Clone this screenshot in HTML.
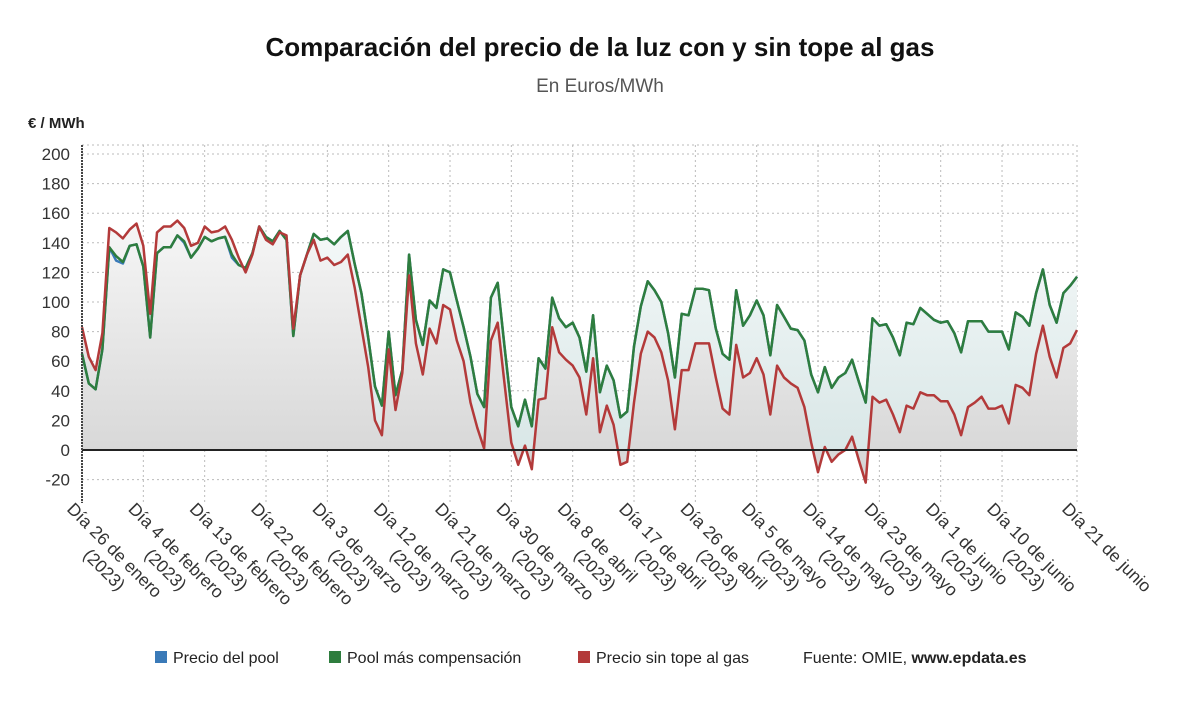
<!DOCTYPE html>
<html><head><meta charset="utf-8">
<style>
body{margin:0;background:#fff;font-family:"Liberation Sans",sans-serif;}
svg text{font-family:"Liberation Sans",sans-serif;}
</style></head>
<body>
<svg width="1200" height="705" viewBox="0 0 1200 705">
<defs>
<linearGradient id="gG" x1="0" y1="0" x2="0" y2="1"><stop offset="0" stop-color="#f4f8f8"/><stop offset="1" stop-color="#d9e7e7"/></linearGradient>
<linearGradient id="gR" x1="0" y1="0" x2="0" y2="1"><stop offset="0" stop-color="#f6f6f6"/><stop offset="1" stop-color="#d4d4d4"/></linearGradient>
</defs>
<text x="600" y="56" text-anchor="middle" font-size="26" font-weight="bold" fill="#111">Comparación del precio de la luz con y sin tope al gas</text>
<text x="600" y="92" text-anchor="middle" font-size="19" fill="#555">En Euros/MWh</text>
<text x="28" y="128" font-size="15" font-weight="bold" fill="#222">€ / MWh</text>
<g id="grid"></g>
<g id="areas"></g>
<g id="lines"></g>
<g id="axes"></g>
<g font-size="16" fill="#222">
<rect x="155" y="651" width="12" height="12" fill="#3a7ab8"/>
<text x="173" y="663">Precio del pool</text>
<rect x="329" y="651" width="12" height="12" fill="#2e7d3e"/>
<text x="347" y="663">Pool más compensación</text>
<rect x="578" y="651" width="12" height="12" fill="#b33a3a"/>
<text x="596" y="663">Precio sin tope al gas</text>
<text x="803" y="663">Fuente: OMIE, <tspan font-weight="bold">www.epdata.es</tspan></text>
</g>
</svg>
<script>
const green=[65,45,41,68,137,131,127,138,139,124,76,133,137,137,145,141,130,136,144,141,143,144,132,125,123,133,151,144,141,148,142,77,118,132,146,142,143,139,144,
148,126,106,76,43,30,80,37,54,132,88,71,101,96,122,120,101,83,63,38,29,103,113,70,29,16,34,16,62,55,103,89,83,86,76,
53,91,39,57,47,22,26,70,97,114,108,100,79,49,92,91,109,109,108,82,65,61,108,84,91,101,91,64,98,90,82,81,74,51,39,
56,42,49,52,61,46,32,89,84,85,76,64,86,85,96,92,88,86,87,79,66,87,87,87,80,80,80,68,93,90,84,106,122,98,86,106,111,117];
const red=[83,63,54,79,150,147,143,149,153,138,92,147,151,151,155,150,138,140,151,147,148,151,142,130,120,132,151,142,139,147,145,82,118,132,142,128,130,125,127,
132,110,83,56,20,10,68,27,52,118,72,51,82,72,98,95,74,60,32,15,1,74,86,45,5,-10,3,-13,34,35,83,66,61,57,49,
24,62,12,30,17,-10,-8,32,65,80,76,66,47,14,54,54,72,72,72,49,28,24,71,49,52,62,51,24,57,49,45,42,29,5,-15,
2,-8,-3,0,9,-7,-22,36,32,34,24,12,30,28,39,37,37,33,33,24,10,29,32,36,28,28,30,18,44,42,37,65,84,63,49,69,72,81];
const blue=green.map((v,i)=>(i===5?128:i===6?126:i===15?140:i===22?130:v));
const yTicks=[-20,0,20,40,60,80,100,120,140,160,180,200];
const xTickLabels=[["Día 26 de enero","(2023)"],["Día 4 de febrero","(2023)"],["Día 13 de febrero","(2023)"],["Día 22 de febrero","(2023)"],["Día 3 de marzo","(2023)"],["Día 12 de marzo","(2023)"],["Día 21 de marzo","(2023)"],["Día 30 de marzo","(2023)"],["Día 8 de abril","(2023)"],["Día 17 de abril","(2023)"],["Día 26 de abril","(2023)"],["Día 5 de mayo","(2023)"],["Día 14 de mayo","(2023)"],["Día 23 de mayo","(2023)"],["Día 1 de junio","(2023)"],["Día 10 de junio","(2023)"],["Día 21 de junio"]];
const xTickDays=[0,9,18,27,36,45,54,63,72,81,90,99,108,117,126,135,146];

const NS="http://www.w3.org/2000/svg";
const X0=82,X1=1077,Y0=450,PX=1.48,N=green.length;
const xs=d=>X0+(X1-X0)*d/(N-1);
const ys=v=>Y0-v*PX;
function mk(t,a,p){const e=document.createElementNS(NS,t);for(const k in a)e.setAttribute(k,a[k]);p.appendChild(e);return e;}
const grid=document.getElementById('grid'),areas=document.getElementById('areas'),lines=document.getElementById('lines'),axes=document.getElementById('axes');
yTicks.forEach(v=>{
 const l=mk('line',{x1:X0,x2:X1,y1:ys(v),y2:ys(v),stroke:'#bbb','stroke-dasharray':'2,3'},grid);
 
 
 const t=mk('text',{x:70,y:ys(v)+6,'text-anchor':'end','font-size':17,fill:'#333'},axes);
 t.textContent=v;
 
 
});
mk('line',{x1:X0,x2:X1,y1:145,y2:145,stroke:'#bbb','stroke-dasharray':'2,3'},grid);
xTickDays.forEach((d,i)=>{
 const x=xs(d);
 const l=mk('line',{x1:x,x2:x,y1:145,y2:503,stroke:'#bbb','stroke-dasharray':'2,3'},grid);
 
 
 const g=mk('g',{transform:`translate(${x-16},${510}) rotate(45)`},axes);
 
 
 xTickLabels[i].forEach((s,j)=>{const t=mk('text',{x:j?44:0,y:j*21,'font-size':17.5,fill:'#333'},g);t.textContent=s;});
});
function areaPath(arr){let p=`M${xs(0)},${Y0}`;arr.forEach((v,i)=>p+=`L${xs(i).toFixed(1)},${ys(v).toFixed(1)}`);return p+`L${xs(N-1)},${Y0}Z`;}
function linePath(arr){return arr.map((v,i)=>(i?'L':'M')+xs(i).toFixed(1)+','+ys(v).toFixed(1)).join('');}
const ag=mk('path',{d:areaPath(green),fill:'url(#gG)'},areas);


const ar=mk('path',{d:areaPath(red),fill:'url(#gR)'},areas);


const zl=mk('line',{x1:X0,x2:X1,y1:Y0,y2:Y0,stroke:'#222','stroke-width':2},axes);


const ax=mk('line',{x1:X0,x2:X0,y1:145,y2:503,stroke:'#444','stroke-width':2,'stroke-dasharray':'2,1'},axes);


const lb=mk('path',{d:linePath(blue),fill:'none',stroke:'#3a7ab8','stroke-width':2.5,'stroke-linejoin':'round'},lines);


const lg=mk('path',{d:linePath(green),fill:'none',stroke:'#2e7d3e','stroke-width':2.5,'stroke-linejoin':'round'},lines);


const lr=mk('path',{d:linePath(red),fill:'none',stroke:'#b33a3a','stroke-width':2.5,'stroke-linejoin':'round'},lines);


</script>
</body></html>
